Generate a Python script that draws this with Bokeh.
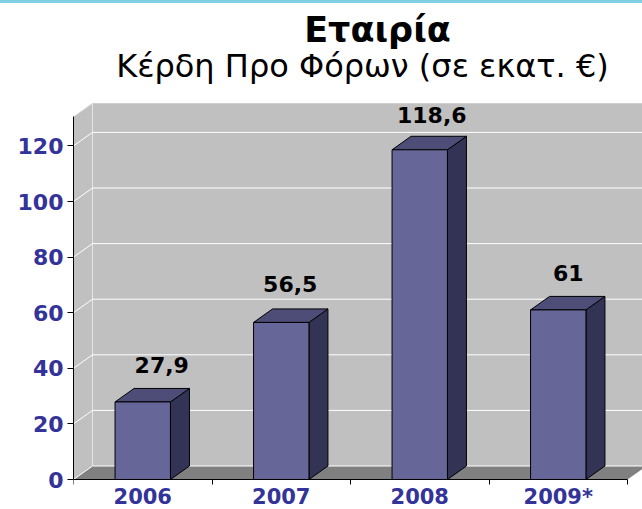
from bokeh.plotting import figure
from bokeh.models import Range1d, FixedTicker, Label, ColumnDataSource
from bokeh.core.properties import value
from bokeh.embed import file_html
from bokeh.resources import INLINE

categories = ["2006", "2007", "2008", "2009*"]
profits = [27.9, 56.5, 118.6, 61]
profit_labels = ["27,9", "56,5", "118,6", "61"]
y_ticks = [0, 20, 40, 60, 80, 100, 120]
title_text = "Εταιρία"
subtitle_text = "Κέρδη Προ Φόρων (σε εκατ. €)"

FONT = "DejaVu Sans"
W, H = 642, 509
X0, Y0 = 73, 479          # pixel position of the axes origin
CAT_W = 138.5             # pixels per category
UNIT = 2.78               # pixels per value unit
DX = 19 / CAT_W           # 3-D depth, horizontal, in data units
DY = 13.5 / UNIT          # 3-D depth, vertical, in data units
BAR = 0.4
YMAX = 130.4
N = len(categories)
LABEL_DX = [0, -10, -7, -9]     # label placement relative to the bar, pixels
LABEL_DY = [-23, -25, -21, -23]

p = figure(width=W, height=H, output_backend="svg", toolbar_location=None,
           x_range=Range1d(0, (W - X0) / CAT_W), y_range=Range1d(-(H - Y0) / UNIT, Y0 / UNIT),
           min_border_left=X0, min_border_right=0, min_border_top=0, min_border_bottom=0,
           outline_line_color=None, background_fill_color=None, border_fill_color=None)
p.styles = {"position": "absolute", "left": "0px", "top": "0px",
            "background": "linear-gradient(#7fd0e6 3px, #ffffff 3px)"}
p.grid.visible = False

# left wall, back wall, floor
p.patch([0, DX, DX, 0], [0, DY, YMAX + DY, YMAX], fill_color="#c0c0c0", line_color=None)
p.patch([DX, N + DX, N + DX, DX], [DY, DY, YMAX + DY, YMAX + DY], fill_color="#c0c0c0", line_color=None)
p.patch([0, N, N + DX, DX], [0, 0, DY, DY], fill_color="#808080", line_color=None)

# wall edges
p.line([0, DX, N + DX], [YMAX, YMAX + DY, YMAX + DY], line_color="#cfcfcf", line_width=1)
p.line([DX, DX], [DY, YMAX + DY], line_color="#e6e6e6", line_width=1)

# gridlines
p.multi_line([[0, DX, N + DX] for _ in y_ticks],
             [[v, v + DY, v + DY] for v in y_ticks],
             line_color="white", line_width=1)

# bars
centres = [i + 0.5 for i in range(N)]
for c, v in zip(centres, profits):
    l, r = c - BAR / 2, c + BAR / 2
    p.patch([r, r + DX, r + DX, r], [0, DY, v + DY, v],
            fill_color="#333355", line_color="#000000", line_width=1)
    p.patch([l, l + DX, r + DX, r], [v, v + DY, v + DY, v],
            fill_color="#4d4d77", line_color="#000000", line_width=1)
p.vbar(x=centres, top=profits, width=BAR, fill_color="#666699", line_color="#000000", line_width=1)

# value labels
src = ColumnDataSource(dict(x=[c + DX for c in centres], y=[v + DY for v in profits],
                            t=profit_labels, dx=LABEL_DX, dy=LABEL_DY))
p.text("x", "y", text="t", x_offset="dx", y_offset="dy", source=src,
       text_font=value(FONT), text_font_style="bold", text_font_size="22px",
       text_color="black", text_align="center", text_baseline="middle")

# axes
ya = p.yaxis[0]
ya.ticker = FixedTicker(ticks=y_ticks)
ya.bounds = (0, YMAX)
ya.axis_line_color = "black"
ya.major_tick_line_color = "black"
ya.major_tick_out = 6
ya.major_tick_in = 0
ya.minor_tick_line_color = None
ya.major_label_standoff = 4
ya.major_label_text_font = FONT
ya.major_label_text_font_style = "bold"
ya.major_label_text_font_size = "22px"
ya.major_label_text_color = "#333399"

xa = p.xaxis[0]
xa.fixed_location = 0
xa.ticker = FixedTicker(ticks=centres, minor_ticks=list(range(N + 1)))
xa.major_label_overrides = {c: t for c, t in zip(centres, categories)}
xa.bounds = (0, N)
xa.axis_line_color = "black"
xa.major_tick_line_color = None
xa.major_tick_out = 0
xa.major_tick_in = 0
xa.minor_tick_line_color = "black"
xa.minor_tick_out = 5
xa.minor_tick_in = 0
xa.major_label_standoff = 0
xa.major_label_text_font = FONT
xa.major_label_text_font_style = "bold"
xa.major_label_text_font_size = "21px"
xa.major_label_text_color = "#333399"

# titles
def px(x): return (x - X0) / CAT_W
def py(y): return (Y0 - y) / UNIT

p.add_layout(Label(x=px(377), y=py(29), text=title_text, text_font=FONT, text_font_style="bold",
                   text_font_size="35px", text_color="black", text_align="center", text_baseline="middle"))
p.add_layout(Label(x=px(362), y=py(65), text=subtitle_text, text_font=FONT,
                   text_font_size="32px", text_color="black", text_align="center", text_baseline="middle"))

open("out.html", "w").write(file_html(p, INLINE))
